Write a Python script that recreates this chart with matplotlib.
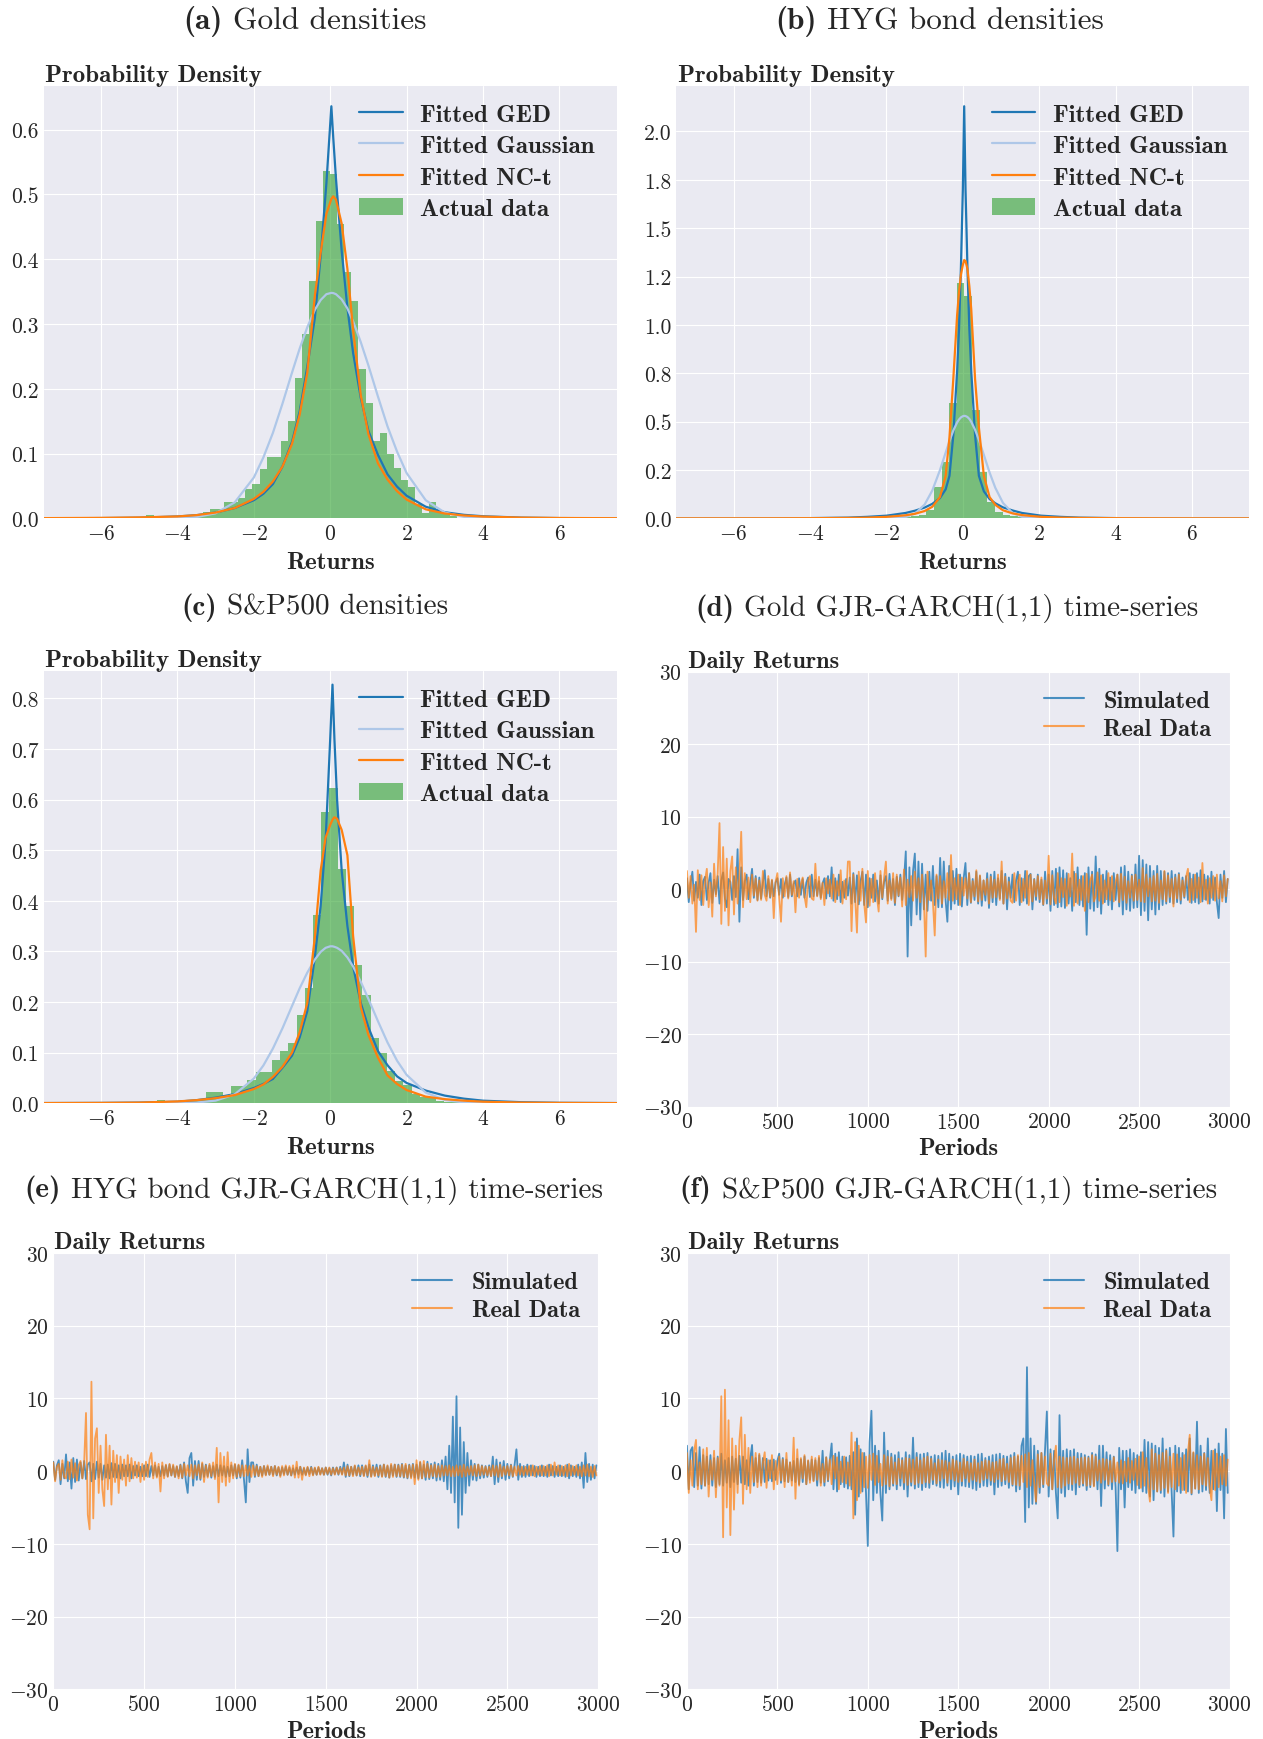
import numpy as np
import matplotlib
matplotlib.use("Agg")
import matplotlib.pyplot as plt
from matplotlib.ticker import FormatStrFormatter

plt.style.use("seaborn-v0_8-darkgrid")
plt.rcParams["font.family"] = "cmr10"
plt.rcParams["mathtext.fontset"] = "cm"
plt.rcParams["axes.formatter.use_mathtext"] = True
plt.rcParams["axes.unicode_minus"] = True
plt.rcParams["font.size"] = 15.5

# ---------------- densities ----------------
gold_x = [-7.5, -6, -5, -4, -3.5, -3, -2.5, -2, -1.75, -1.5, -1.25, -1, -0.8, -0.6, -0.4, -0.25, -0.1,
          0.03, 0.08, 0.15, 0.3, 0.45, 0.6, 0.8, 1.0, 1.25, 1.5, 1.75, 2.0, 2.5, 3, 3.5, 4, 5, 6, 7.5]
gold_ged = [0.0002, 0.0005, 0.0011, 0.003, 0.005, 0.009, 0.016, 0.028, 0.038, 0.053, 0.08, 0.118, 0.165,
            0.234, 0.31, 0.405, 0.517, 0.636, 0.587, 0.525, 0.413, 0.325, 0.255, 0.186, 0.135, 0.098,
            0.068, 0.049, 0.035, 0.018, 0.0095, 0.0055, 0.0033, 0.0012, 0.0005, 0.0002]
gold_gauss = [0.0, 0.0, 0.0, 0.0004, 0.002, 0.0079, 0.0247, 0.063, 0.094, 0.132, 0.177, 0.225, 0.262,
              0.295, 0.322, 0.337, 0.346, 0.348, 0.3477, 0.346, 0.338, 0.324, 0.304, 0.272, 0.236, 0.188,
              0.142, 0.103, 0.07, 0.028, 0.009, 0.0024, 0.0005, 0.0, 0.0, 0.0]
gold_nct = [0.0004, 0.0008, 0.0015, 0.003, 0.005, 0.009, 0.016, 0.03, 0.041, 0.057, 0.08, 0.115, 0.16,
            0.225, 0.345, 0.41, 0.47, 0.493, 0.497, 0.492, 0.455, 0.385, 0.29, 0.19, 0.13, 0.085, 0.06,
            0.042, 0.029, 0.014, 0.0075, 0.0045, 0.0028, 0.0012, 0.0006, 0.0003]
gold_bin_start, gold_bin_width = -5.92, 0.185
gold_hist = [0.002, 0, 0, 0, 0, 0, 0.006, 0.002, 0.002, 0.003, 0.003, 0.004, 0.005, 0.007, 0.01, 0.015,
             0.015, 0.026, 0.026, 0.032, 0.045, 0.053, 0.076, 0.095, 0.095, 0.12, 0.15, 0.216, 0.284,
             0.366, 0.459, 0.536, 0.532, 0.454, 0.38, 0.335, 0.23, 0.178, 0.119, 0.132, 0.099, 0.077,
             0.059, 0.049, 0.022, 0.009, 0.025, 0.01, 0.009, 0.004]

hyg_x = [-7.5, -6, -5, -4, -3, -2.5, -2, -1.5, -1.25, -1, -0.8, -0.6, -0.45, -0.35, -0.25, -0.15, -0.1,
         -0.05, 0.0, 0.035, 0.07, 0.12, 0.17, 0.22, 0.32, 0.42, 0.55, 0.7, 0.85, 1.05, 1.3, 1.55, 2.05,
         2.55, 3.05, 4, 5, 6, 7.5]
hyg_ged = [0.0001, 0.0003, 0.0006, 0.0015, 0.004, 0.008, 0.014, 0.028, 0.04, 0.056, 0.075, 0.105, 0.15,
           0.22, 0.43, 0.76, 0.98, 1.3, 1.7, 2.13, 1.7, 1.3, 0.98, 0.76, 0.43, 0.22, 0.14, 0.1, 0.078,
           0.057, 0.041, 0.028, 0.014, 0.008, 0.004, 0.0015, 0.0006, 0.0003, 0.0001]
hyg_gauss = [0, 0, 0, 0, 0, 0, 0.0002, 0.0066, 0.025, 0.0717, 0.144, 0.249, 0.34, 0.4, 0.454, 0.496,
             0.511, 0.522, 0.528, 0.53, 0.529, 0.524, 0.514, 0.499, 0.458, 0.406, 0.328, 0.237, 0.158,
             0.08, 0.028, 0.0079, 0.0002, 0, 0, 0, 0, 0, 0]
hyg_nct = [0.0002, 0.0003, 0.0005, 0.001, 0.0025, 0.004, 0.008, 0.016, 0.024, 0.038, 0.06, 0.11, 0.22,
           0.42, 0.72, 1.05, 1.17, 1.26, 1.31, 1.335, 1.33, 1.29, 1.2, 1.08, 0.72, 0.47, 0.22, 0.11, 0.07,
           0.042, 0.026, 0.017, 0.008, 0.004, 0.0025, 0.001, 0.0005, 0.0003, 0.0002]
hyg_bin_start, hyg_bin_width = -1.958, 0.2
hyg_hist = [0.003, 0.005, 0.006, 0.01, 0.017, 0.045, 0.16, 0.29, 0.597, 1.217, 1.148, 0.56, 0.238,
            0.083, 0.034, 0.019, 0.01, 0.006, 0.004, 0.002]

sp_x = [-7.5, -6, -5, -4, -3.5, -3, -2.5, -2, -1.75, -1.5, -1.25, -1, -0.8, -0.6, -0.4, -0.25, -0.12,
        0.0, 0.06, 0.11, 0.18, 0.3, 0.45, 0.6, 0.8, 1.0, 1.25, 1.5, 1.75, 2.0, 2.5, 3, 3.5, 4, 5, 6, 7.5]
sp_ged = [0.0003, 0.0006, 0.0012, 0.003, 0.006, 0.011, 0.018, 0.03, 0.038, 0.048, 0.07, 0.094, 0.13,
          0.182, 0.29, 0.39, 0.52, 0.72, 0.827, 0.72, 0.6, 0.46, 0.35, 0.27, 0.198, 0.15, 0.103, 0.075,
          0.053, 0.04, 0.025, 0.015, 0.009, 0.005, 0.002, 0.0008, 0.0003]
sp_gauss = [0, 0, 0, 0.0002, 0.0012, 0.0051, 0.0175, 0.0487, 0.0745, 0.108, 0.148, 0.192, 0.227, 0.258,
            0.284, 0.299, 0.307, 0.31, 0.31, 0.309, 0.307, 0.301, 0.288, 0.27, 0.24, 0.206, 0.162, 0.12,
            0.084, 0.056, 0.021, 0.0063, 0.0015, 0.0003, 0, 0, 0]
sp_nct = [0.0003, 0.0006, 0.0012, 0.0035, 0.006, 0.01, 0.016, 0.028, 0.037, 0.052, 0.072, 0.1, 0.14,
          0.198, 0.33, 0.46, 0.525, 0.55, 0.56, 0.565, 0.562, 0.54, 0.49, 0.33, 0.19, 0.135, 0.09, 0.055,
          0.038, 0.026, 0.013, 0.008, 0.005, 0.003, 0.0012, 0.0006, 0.0002]
sp_bin_start, sp_bin_width = -4.535, 0.215
sp_hist = [0.007, 0.002, 0.002, 0.003, 0.004, 0.006, 0.023, 0.023, 0.016, 0.034, 0.034, 0.045, 0.062,
           0.062, 0.085, 0.103, 0.118, 0.175, 0.228, 0.371, 0.576, 0.622, 0.463, 0.39, 0.273, 0.213,
           0.128, 0.1, 0.063, 0.043, 0.035, 0.018, 0.013, 0.012, 0.005, 0.003, 0.002, 0.002]

# ---------------- time series, one value every 10 periods ----------------
step = 10
gold_real = [
    2.5, -1.2, 1.8, -2.0, 0.6, -5.9, 2.6, -1.5, 1.9, -2.2,
    1.2, 2.8, -2.5, 0.9, -3.8, 3.5, -1.0, 2.2, 9.1, -4.8,
    5.8, -3.0, 4.2, -5.0, 2.5, 4.5, -3.5, 3.0, -2.0, 1.8,
    7.9, -2.5, 2.2, -1.4, 1.6, -1.8, 2.0, -0.9, 1.5, -1.6,
    1.2, -1.5, 2.5, -0.8, -1.6, 1.8, -1.1, 1.3, -4.0, 1.0,
    2.2, -1.2, -4.5, 1.5, -1.0, 1.8, -1.3, 2.3, -0.8, 1.1,
    -3.2, 1.4, -1.2, 0.7, 1.6, -1.0, -2.5, 1.2, 1.8, -1.3,
    -1.5, 3.5, -1.0, 1.7, -1.4, 0.9, -2.2, 1.5, -0.6, 1.3,
    -1.3, 2.0, -1.8, 1.1, -0.9, 2.6, -2.0, 1.2, -1.4, 3.8,
    3.8, -5.8, 2.0, -1.2, -6.0, 2.4, -1.6, 2.8, -2.0, -4.6,
    2.5, -2.3, 1.4, -1.8, 2.2, -1.0, -3.1, 2.5, -1.2, 1.6,
    3.8, -2.0, 1.2, -1.5, 2.2, -1.9, 2.0, -0.9, 1.6, -2.4,
    2.7, -2.2, 1.3, -1.1, 1.8, -1.6, 2.4, -1.2, 1.5, -1.8,
    2.0, -1.4, -9.3, 2.4, -1.5, 1.2, -1.8, -6.4, 2.0, -1.3,
    1.8, -2.0, 1.1, -1.2, 2.2, -1.5, 4.7, -1.6, 1.5, -1.4,
    2.0, -2.2, 1.6, -0.9, 1.5, -1.3, 2.2, -1.8, 1.1, -1.0,
    2.6, -1.7, 1.9, -1.5, 1.2, -0.8, 1.4, -2.0, 1.7, -1.2,
    1.3, -1.1, 2.0, -1.5, 3.8, -2.0, 1.7, -1.3, 1.0, -1.6,
    -1.9, 2.2, -1.6, 1.0, 2.0, -1.8, 1.4, -1.2, 2.5, -2.2,
    2.0, -1.7, 1.3, -1.0, 1.8, -1.4, 1.6, -2.1, 1.2, -1.3,
    4.6, -2.1, 1.9, -1.2, -2.0, 2.2, -1.8, 1.5, -1.1, 1.4,
    -2.3, 2.1, -1.0, 4.9, -2.3, 2.1, -2.0, 1.3, -1.5, 1.8,
    -3.0, 2.1, -1.8, 1.2, 2.0, -1.7, -1.0, 2.3, -1.6, 1.9,
    -2.0, 1.2, -1.4, 2.2, -1.5, 1.8, -1.7, 1.0, 2.0, -1.8,
    2.1, -1.5, 1.7, -1.9, 1.1, -1.2, 1.8, -1.6, 2.0, -1.5,
    1.3, -1.7, 2.9, -1.8, 2.0, -1.0, 1.5, -1.7, 1.8, -1.6,
    2.1, -1.9, 1.2, -1.4, 2.5, -1.7, 1.9, -1.1, 1.4, -2.4,
    1.6, -1.3, 2.0, -1.5, 1.2, -1.0, 1.7, 2.8, -1.8, 1.4,
    -1.5, 2.0, -1.2, 1.6, -1.8, 3.6, -1.4, 1.3, -2.0, 1.5,
    -1.2, 1.8, -1.6, 2.0, -1.3, 1.1, -1.7, 1.9, -1.0, 1.4]
gold_sim = [
    1.5, -1.8, 0.8, 2.4, -1.6, 1.0, -1.2, 2.0, -2.2, 1.1,
    1.7, -1.5, 0.9, 2.2, -1.9, 1.3, -0.7, 1.8, -2.0, 1.2,
    2.3, -1.3, -2.5, 1.4, 1.0, -1.5, 1.8, -1.1, 5.5, -4.5,
    3.0, -1.5, 1.1, 2.0, -1.4, 0.8, 2.8, -1.2, 1.8, -1.5,
    1.6, -1.3, 0.9, 2.6, -1.0, 1.4, -1.2, 1.2, -1.0, 0.9,
    1.5, -0.8, 1.4, -1.2, 0.6, 1.6, -1.1, 2.0, -1.0, 0.7,
    1.2, -1.0, 1.5, -0.8, 1.4, -1.2, 0.9, 1.6, -1.1, 2.0,
    -1.0, 1.3, -0.9, 1.1, -1.2, 0.8, 1.5, -1.3, 1.8, -1.0,
    3.0, -1.6, 1.5, -1.4, 2.0, -1.8, 1.0, -1.2, 1.4, -0.9,
    1.6, -2.0, 2.2, -1.8, 1.9, -2.1, 1.1, 2.4, -2.2, 2.0,
    -2.5, 1.5, -1.2, 2.0, -1.7, 1.2, -2.0, 1.9, -1.4, 1.0,
    1.8, -1.6, 2.1, -1.3, 1.4, -2.2, 1.7, -1.0, 2.0, -1.5,
    1.2, 5.2, -9.3, 3.0, -5.0, 2.5, 4.9, -3.5, 3.8, -4.2,
    3.5, -2.8, 2.0, -3.0, 2.4, -1.6, 3.2, -2.2, 1.8, -2.5,
    4.3, -2.5, 3.8, -1.5, -4.5, 3.2, -2.8, 2.5, -2.0, 2.8,
    -2.2, 2.0, -2.4, 1.5, 3.6, -2.2, 2.2, -1.9, 1.4, -1.5,
    2.4, -2.0, 1.8, -2.3, 1.2, -1.6, 2.2, -2.6, 2.0, -1.8,
    2.4, -2.2, 1.5, -1.3, 2.5, -2.0, 2.1, -2.8, 1.6, -1.2,
    2.0, -1.8, 1.2, 2.4, -2.2, 1.5, -1.6, 2.5, -2.0, 1.8,
    2.1, -2.8, 1.4, -1.5, 2.0, -1.8, 1.3, -2.2, 2.4, -2.0,
    2.0, -3.0, 2.5, -2.2, 2.8, -2.5, 3.0, -2.4, 2.6, -2.6,
    2.2, -2.0, 1.5, -3.0, 2.4, -1.8, 3.0, -2.2, 1.8, -2.4,
    2.2, -6.3, 3.0, -2.7, 2.4, -3.0, 4.5, -2.5, 2.8, -3.4,
    2.0, -1.8, 2.5, -2.2, 1.6, -2.8, 2.2, -1.5, 2.0, -2.4,
    3.0, -3.5, 3.2, -2.8, 2.4, -3.0, 2.0, -2.6, 3.4, -2.5,
    4.6, -3.6, 4.0, -3.0, 3.4, -4.3, 3.2, -2.8, 2.5, -3.5,
    3.2, -2.8, 2.5, -2.2, 2.4, -2.0, 2.2, -1.8, 2.5, -2.0,
    2.0, -1.8, 2.2, -2.0, 1.6, -1.2, 1.8, -1.5, 2.2, -1.9,
    2.0, -1.8, 2.2, -2.0, 2.6, -1.7, 2.0, -1.5, 1.8, -2.0,
    2.4, -1.5, 1.6, -1.8, -4.0, 2.0, -1.2, 2.5, -1.8, 1.4]

hyg_real = [
    1.2, -1.4, 0.6, 1.0, -1.2, 1.5, -0.8, -1.0, 1.3, -1.1,
    1.6, -0.9, 1.1, -1.3, 0.8, 1.4, -1.0, 1.2, 8.0, -6.0,
    -8.0, 12.3, -6.5, 4.5, 5.9, -3.0, 3.5, -2.5, -4.8, 5.0,
    -2.5, 3.5, -4.6, 2.8, -1.5, 2.2, -3.0, 2.0, -1.2, 1.6,
    -2.0, 2.2, -1.4, 1.8, -1.0, 1.3, -0.9, 1.2, -1.5, 1.0,
    -1.2, 1.3, -0.8, 1.6, 2.5, -1.0, 1.2, -0.9, 1.0, -2.8,
    1.2, -1.0, 0.9, -0.8, 1.0, -0.6, 0.9, -0.8, 0.7, -1.0,
    0.8, -0.9, 1.0, -0.6, 0.8, -0.7, 0.9, -1.0, 0.8, -0.6,
    0.9, -1.0, 1.2, -1.5, 0.8, -0.9, 1.0, -0.7, 1.2, -1.1,
    3.2, -4.3, 2.5, -1.5, 2.0, -2.0, 2.6, -1.5, 1.2, -1.0,
    1.0, -0.8, 0.9, -0.7, 0.8, -0.7, 0.8, -0.6, 0.7, -0.8,
    0.8, -0.6, 0.7, -0.7, 0.6, -0.8, 0.7, -0.6, 0.8, -0.5,
    0.6, -0.7, 0.7, -0.5, 0.6, -0.8, 0.7, -0.6, 0.8, -0.5,
    0.7, -0.6, 0.8, -0.9, 1.3, -0.9, 0.6, -1.2, 0.5, -0.6,
    0.6, -0.7, 0.5, -0.6, 0.5, -0.5, 0.6, -0.5, 0.4, -0.5,
    0.5, -0.4, 0.5, -0.5, 0.4, -0.5, 0.5, -0.4, 0.4, -0.5,
    0.5, -0.6, 0.7, -0.6, 0.6, -0.7, 0.8, -0.6, 0.5, -0.5,
    0.6, -0.7, 0.8, -0.6, 1.5, -0.8, 0.6, -0.7, 0.5, -0.6,
    0.7, -0.8, 0.9, -0.7, 0.8, -0.9, 1.0, -0.8, 0.9, -0.7,
    0.8, -0.7, 0.9, -0.8, 1.0, -0.9, 0.8, -1.0, 0.9, -1.8,
    1.5, -1.2, 1.3, -1.0, 1.4, -0.8, 1.0, -0.9, 0.8, -0.7,
    0.9, -0.8, 0.7, -0.8, 0.8, -0.6, 0.7, -0.6, 0.8, -0.7,
    0.6, -0.7, 0.8, -0.6, 0.7, -0.8, 0.9, -0.7, 0.6, -0.5,
    0.7, -0.6, 0.8, -0.7, 0.9, -0.6, 0.7, -0.5, 0.6, -0.6,
    0.6, -0.7, 0.8, -0.6, 0.7, -0.8, 0.9, -0.7, 0.6, -0.5,
    0.7, -0.6, 0.8, -0.7, 0.6, -0.6, 0.7, -0.5, 0.6, -0.6,
    0.6, -0.5, 0.7, -0.6, 0.8, -0.7, 0.6, -0.5, 0.7, -0.6,
    0.7, -0.6, 0.8, -0.7, 0.9, -0.6, 1.2, -0.5, 0.8, -0.6,
    0.7, -0.6, 0.8, -0.7, 1.0, -0.6, 0.7, -0.5, 0.8, -0.6,
    0.6, -0.7, 0.8, -0.6, 0.9, -0.7, 0.6, -0.8, 0.7, -0.6]
hyg_sim = [
    1.3, -1.2, 0.8, 1.5, -1.8, 1.0, -1.0, 2.3, -1.4, 1.2,
    -2.4, 1.8, -1.5, 1.6, -1.3, 1.2, -1.0, 1.4, -1.1, 0.9,
    1.2, -1.4, 1.0, -1.1, 1.3, -0.9, 1.0, -1.2, 0.8, -0.9,
    0.9, -1.0, 1.1, -0.8, 1.0, -0.9, 0.8, -1.0, 0.9, -0.7,
    0.8, -0.7, 0.9, -1.0, 0.7, -0.6, 0.8, -0.7, 0.6, -0.7,
    0.8, -0.7, 0.9, -0.8, 0.7, -0.6, 0.8, -0.7, 0.6, -0.7,
    0.7, -0.6, 0.8, -0.7, 0.9, -0.6, 0.7, -0.8, 0.6, -0.7,
    0.9, -1.0, 1.2, -1.4, -3.0, 1.8, 2.5, -2.0, 1.4, -1.2,
    1.4, -1.2, 1.0, -0.8, 0.9, -0.7, 0.8, -0.9, 0.7, -0.8,
    0.9, -0.7, 0.8, -0.6, 0.7, -0.8, 0.6, -0.7, 0.8, -0.6,
    0.9, -1.0, 0.8, -0.9, 1.5, -1.2, -4.3, 3.0, -1.5, 1.2,
    1.2, -0.8, 0.9, -0.7, 0.6, -0.6, 0.7, -0.5, 0.6, -0.5,
    0.6, -0.5, 0.7, -0.6, 0.5, -0.6, 0.5, -0.4, 0.6, -0.5,
    0.5, -0.6, 0.4, -0.5, 0.5, -0.4, 0.6, -0.5, 0.4, -0.5,
    0.5, -0.4, 0.6, -0.5, 0.4, -0.5, 0.5, -0.4, 0.4, -0.5,
    0.5, -0.5, 0.4, -0.6, 0.5, -0.4, 0.5, -0.5, 0.6, -0.4,
    1.2, -0.8, 0.9, -0.7, 0.6, -0.5, 0.7, -0.6, 0.8, -0.7,
    0.8, -0.6, 0.7, -0.8, 0.9, -0.7, 0.8, -0.6, 0.9, -0.8,
    0.8, -0.7, 0.9, -0.8, 0.7, -0.9, 0.8, -0.6, 0.9, -0.8,
    0.9, -0.8, 1.0, -0.9, 0.8, -1.0, 0.9, -0.8, 1.0, -0.9,
    0.9, -1.0, 1.2, -1.0, 0.9, -1.2, 1.3, -1.1, 1.0, -1.0,
    1.2, -1.3, 1.0, -1.2, 1.5, -1.4, 2.0, -2.5, 3.5, -3.0,
    7.5, -4.3, 10.3, -7.8, 6.0, -6.0, 4.0, -3.0, 2.5, -2.0,
    1.5, -1.2, 1.0, -1.3, 0.9, -1.0, 0.8, -0.9, 0.7, -0.8,
    0.8, -0.7, 2.0, -1.8, 1.6, -1.5, 1.2, -1.0, 1.4, -1.2,
    1.0, -1.0, 0.9, -0.8, 0.9, 3.0, -1.2, 1.0, -0.8, 0.7,
    -0.8, 0.9, -0.7, 0.8, -0.6, 0.7, -0.8, 0.6, -0.7, 0.8,
    -0.7, 0.6, -0.8, 0.9, -0.6, 0.7, -0.8, 0.6, -0.7, 0.8,
    -0.7, 0.6, -0.8, 0.9, -1.0, 0.8, -0.7, 0.6, -0.8, 0.9,
    -1.0, 1.2, -2.3, 2.5, -1.5, 1.0, -1.2, 0.9, -1.0, 0.8]

sp_real = [
    2.5, -3.0, 1.5, -2.0, 2.8, 4.3, -2.5, 1.2, -1.8, 3.0,
    -2.0, 3.2, -3.5, 1.5, -1.2, 2.8, -3.6, 1.8, -2.0, 10.3,
    -9.1, 11.2, -5.0, 7.0, -8.8, 4.5, -5.3, 3.5, -3.0, 4.2,
    7.4, -4.5, 5.0, -2.5, 3.2, -3.0, 2.0, -1.5, 2.5, -2.2,
    2.4, -2.0, 1.2, 2.6, -2.3, 1.5, -1.0, 2.2, -2.5, 1.4,
    -1.8, 2.0, -1.3, 1.6, -2.2, 2.5, -1.5, 1.2, -2.0, 4.6,
    -3.8, 3.0, -2.0, 1.8, -1.0, 2.2, -1.8, 1.5, -1.6, 2.0,
    -1.4, 1.8, -1.2, 2.1, -2.0, 1.0, -1.5, 1.9, -1.2, 1.6,
    -1.8, 2.1, -1.0, 1.9, -2.5, 1.3, -1.5, 2.0, -1.7, 1.2,
    -2.0, 5.3, -6.5, 4.0, -4.0, 3.5, -3.0, 2.5, -2.2, 2.0,
    -2.3, 2.2, -1.2, 2.4, -1.9, 2.1, -1.5, 1.0, -2.0, 2.2,
    -1.8, 2.0, -2.1, 1.9, -1.7, 1.2, -1.8, 1.7, -1.0, 1.5,
    -1.6, 1.8, -1.9, 1.7, -1.5, 1.6, -1.8, 1.9, -1.6, 1.5,
    -1.7, 1.8, -1.5, 2.0, -1.6, 1.7, -1.2, 1.1, -1.7, 1.6,
    -1.3, 1.5, -1.0, 1.4, -1.6, 1.2, -1.1, 1.6, -1.3, 1.4,
    -1.5, 1.2, -1.4, 1.7, -1.0, 1.3, -1.5, 1.1, -1.2, 1.6,
    -1.4, 1.1, -1.6, 1.3, -1.2, 1.5, -1.0, 1.4, -1.3, 1.2,
    -1.5, 1.3, -1.1, 1.6, -1.4, 1.7, -1.2, 1.0, -1.5, 1.8,
    -1.8, 2.0, -1.9, 2.2, -2.0, 2.1, -1.5, 2.3, -2.2, 2.5,
    -2.0, 1.5, -1.6, -4.2, 2.3, -2.2, 2.5, -1.8, 2.0, -1.7,
    -2.0, 2.4, -2.5, 1.5, 3.5, -2.2, 2.0, -2.3, 1.9, -2.0,
    1.8, -1.7, 1.9, -1.8, 2.0, -1.6, 1.7, -1.9, 1.8, -1.7,
    1.9, -2.0, 1.8, -1.9, 2.2, -2.1, 2.0, -1.3, 1.5, -1.6,
    1.7, -1.2, 1.6, -1.8, 1.4, -1.5, 1.9, -1.4, 1.2, -1.6,
    1.5, -1.7, 1.3, -1.4, 1.8, -1.6, 1.4, -1.2, 1.7, -1.9,
    2.0, -2.3, 2.6, -2.0, 1.8, -2.2, -4.2, 3.0, -2.5, 2.4,
    -2.8, 2.2, -2.6, 2.5, -2.3, 2.8, -3.0, 2.0, -2.2, 2.4,
    -2.5, 2.3, -2.0, 1.8, -2.6, 2.2, -3.0, 2.5, 5.0, -3.0,
    2.6, -2.4, 2.2, -2.5, 2.0, -1.8, 2.4, -2.0, 1.8, -2.2,
    -4.0, 2.8, -2.6, 2.4, -2.2, 2.0, -1.8, 2.2, -2.0, 1.6]
sp_sim = [
    3.5, -2.5, 2.8, 3.3, -2.2, 2.5, -2.0, 3.3, -2.4, 2.2,
    -2.0, 2.0, -1.8, 2.2, -2.0, 1.8, -2.2, 2.0, -1.8, 2.4,
    -2.0, 1.5, -1.6, 1.8, -2.2, 2.0, -1.5, 1.7, -1.8, 2.1,
    -1.6, 2.0, -1.8, 1.5, -2.0, 1.7, 3.6, -2.0, 1.8, -1.5,
    2.2, -1.6, 1.8, -1.5, 1.7, -1.3, 1.5, -1.4, 1.6, -1.2,
    1.4, 2.4, -1.6, 1.8, -1.4, 1.6, -1.5, 1.2, -1.3, 1.4,
    -1.5, 1.7, -1.8, 1.6, -1.5, 2.0, -1.8, 1.4, -1.2, 1.6,
    -1.3, 1.5, -2.0, 1.8, -1.6, 2.8, -2.0, 1.9, -1.4, 1.5,
    3.8, -2.5, 2.4, -2.8, 2.6, -1.8, 2.0, -2.2, 1.9, -2.4,
    2.1, -2.5, 2.6, -6.0, 4.5, -3.5, 3.0, -2.8, 2.5, -3.0,
    -10.3, 4.0, 8.3, -4.0, 3.5, -3.0, 2.8, -3.2, -6.8, 5.3,
    -3.0, 2.8, -2.5, 2.4, -2.0, 2.2, -2.5, 2.6, -2.0, 1.8,
    -2.5, 2.6, -3.5, 2.2, -2.0, 4.6, -2.4, 2.5, -2.2, 2.3,
    -2.6, 2.4, -2.2, 2.5, -2.3, 2.0, -1.8, 2.2, -2.0, 2.1,
    -2.2, 2.5, -2.3, 2.8, -2.0, 2.4, -2.5, 2.0, -2.1, 2.2,
    -3.2, 2.4, -2.0, 2.2, -2.1, 2.0, -2.2, 2.1, -2.4, 2.0,
    -2.6, 2.3, -2.2, 2.4, -2.0, 1.8, -2.1, 2.0, -1.9, 2.2,
    -3.2, 2.3, -2.2, 2.4, -2.0, 2.1, -1.8, 2.0, -2.3, 2.2,
    -2.0, 2.5, -2.8, 2.0, -2.5, 3.5, 4.5, -7.0, 14.3, -5.0,
    4.5, -4.5, 3.5, -4.5, 2.8, -3.0, 2.5, -2.2, 3.0, 8.2,
    -3.5, 3.0, -2.5, 2.8, -3.0, -6.5, 7.7, -3.0, 2.8, -3.5,
    3.0, -2.5, 2.8, -2.6, 3.0, -3.2, 2.5, -2.2, 2.4, -2.0,
    2.2, -2.6, 2.0, -2.2, 2.5, -2.0, 2.3, -2.5, 3.5, -4.8,
    3.5, -2.4, 2.6, -2.0, 2.2, -2.5, 2.0, -2.2, -11.0, 3.2,
    -2.5, 2.8, -5.0, 2.8, -2.2, 3.0, -2.6, 2.5, -3.0, 2.2,
    -2.4, 2.6, -2.8, 4.3, -3.0, 4.0, -3.5, 3.8, -4.0, 3.5,
    -2.8, 3.2, -3.0, 4.5, -3.5, 3.0, -2.8, 3.2, -3.0, -9.0,
    3.5, -2.8, 3.2, -3.0, 2.5, -2.6, 3.0, -2.8, 4.5, -3.2,
    2.5, -2.4, 6.8, -3.0, 3.5, -2.8, 2.5, -2.6, 4.5, -3.0,
    2.8, -2.5, 3.0, -5.5, 3.8, -2.6, 2.4, -6.5, 5.8, -3.0]

titles = [("(a)", "Gold densities"),
          ("(b)", "HYG bond densities"),
          ("(c)", "S&P500 densities"),
          ("(d)", "Gold GJR-GARCH(1,1) time-series"),
          ("(e)", "HYG bond GJR-GARCH(1,1) time-series"),
          ("(f)", "S&P500 GJR-GARCH(1,1) time-series")]

BOLD = "cmb10"


def density_panel(ax, x, ged, gauss, nct, start, width, heights):
    edges = start + width * np.arange(len(heights))
    ax.plot(x, ged, color="#1f77b4", lw=1.6, label="Fitted GED")
    ax.plot(x, gauss, color="#aec7e8", lw=1.6, label="Fitted Gaussian")
    ax.plot(x, nct, color="#ff7f0e", lw=1.6, label="Fitted NC-t")
    ax.bar(edges, heights, width=width, align="edge", color="#2ca02c", alpha=0.6,
           linewidth=0, label="Actual data")
    ax.set_xlim(-7.5, 7.5)
    ax.set_xticks([-6, -4, -2, 0, 2, 4, 6])
    ax.yaxis.set_major_formatter(FormatStrFormatter("%.1f"))
    ax.set_xlabel("Returns", fontfamily=BOLD, fontsize=18, labelpad=6)
    ax.text(0.003, 1.0, "Probability Density", transform=ax.transAxes,
            fontfamily=BOLD, fontsize=18, va="bottom", ha="left")
    ax.legend(loc="upper right", bbox_to_anchor=(0.992, 1.0),
              prop={"family": BOLD, "size": 18}, handlelength=1.75,
              labelspacing=0.36, borderaxespad=0.3, handletextpad=0.7)


def series_panel(ax, sim, real):
    periods = np.arange(len(sim)) * step
    ax.plot(periods, sim, color="#1f77b4", alpha=0.8, lw=1.3, label="Simulated")
    ax.plot(periods, real, color="#ff7f0e", alpha=0.7, lw=1.3, label="Real Data")
    ax.set_xlim(0, 3000)
    ax.set_ylim(-30, 30)
    ax.set_xlabel("Periods", fontfamily=BOLD, fontsize=17.5, labelpad=4)
    ax.text(0.002, 1.0, "Daily Returns", transform=ax.transAxes,
            fontfamily=BOLD, fontsize=17.5, va="bottom", ha="left")
    leg = ax.legend(loc="upper right", prop={"family": BOLD, "size": 17.5}, handlelength=1.65,
                    labelspacing=0.25, borderaxespad=0.35, handletextpad=0.8)
    for h in leg.get_lines():
        h.set_linewidth(1.5)


fig = plt.figure(figsize=(12.63, 17.40), dpi=100)
ax_a = fig.add_axes([0.0346, 0.7015, 0.4537, 0.2487])
ax_b = fig.add_axes([0.5355, 0.7015, 0.4537, 0.2487])
ax_c = fig.add_axes([0.0346, 0.3654, 0.4537, 0.2484])
ax_d = fig.add_axes([0.5439, 0.3634, 0.4296, 0.2501])
ax_e = fig.add_axes([0.0422, 0.0286, 0.4314, 0.2507])
ax_f = fig.add_axes([0.5439, 0.0286, 0.4296, 0.2507])

density_panel(ax_a, gold_x, gold_ged, gold_gauss, gold_nct, gold_bin_start, gold_bin_width, gold_hist)
density_panel(ax_b, hyg_x, hyg_ged, hyg_gauss, hyg_nct, hyg_bin_start, hyg_bin_width, hyg_hist)
density_panel(ax_c, sp_x, sp_ged, sp_gauss, sp_nct, sp_bin_start, sp_bin_width, sp_hist)
ax_c.set_ylim(0, 0.854)
series_panel(ax_d, gold_sim, gold_real)
series_panel(ax_e, hyg_sim, hyg_real)
series_panel(ax_f, sp_sim, sp_real)

# captions: bold tag + roman text, centred as a whole
renderer = fig.canvas.get_renderer()
title_pos = [(0.2412, 0.9874), (0.7439, 0.9874), (0.2491, 0.6507),
             (0.7496, 0.6500), (0.2482, 0.3160), (0.7508, 0.3160)]
title_size = [22.5, 22.5, 21, 21, 21, 21]
gap = 10 / fig.bbox.width
for (tx, ty), fs, (tag, rest) in zip(title_pos, title_size, titles):
    t1 = fig.text(0, ty, tag, fontfamily=BOLD, fontsize=fs, va="center", ha="left")
    t2 = fig.text(0, ty, rest, fontsize=fs, va="center", ha="left")
    w1 = t1.get_window_extent(renderer).width / fig.bbox.width
    w2 = t2.get_window_extent(renderer).width / fig.bbox.width
    left = tx - (w1 + gap * fs / 21 + w2) / 2
    t1.set_x(left)
    t2.set_x(left + w1 + gap * fs / 21)

fig.savefig("out.png", dpi=100)
